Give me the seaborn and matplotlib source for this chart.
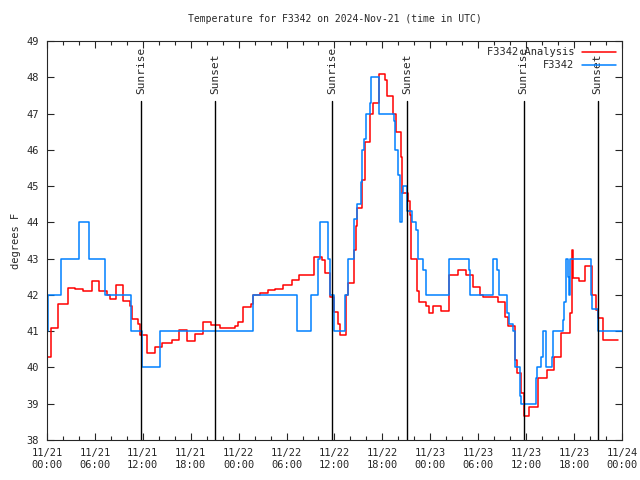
import numpy as np
import pandas as pd
import matplotlib
matplotlib.use("Agg")
from matplotlib import pyplot as plt
import matplotlib.dates as mdates
import seaborn as sns

# observed station values (hours since 2024-11-21 00:00 UTC, degrees F)
obs_hours = [0.0, 0.17, 1.7, 4.05, 5.2, 7.26, 10.5, 11.9, 14.2, 25.8, 31.25, 33.0,
             34.0, 34.2, 35.2, 35.5, 36.0, 37.3, 37.7, 38.4, 38.5, 38.8, 39.3, 39.5,
             39.7, 39.9, 40.5, 40.6, 41.6, 43.4, 43.6, 43.9, 44.2, 44.4, 44.6, 45.1,
             45.7, 46.2, 46.4, 47.1, 47.4, 50.4, 52.8, 53.0, 55.8, 56.4, 56.6, 57.6,
             57.8, 58.4, 58.6, 59.2, 59.4, 61.2, 61.4, 61.9, 62.1, 62.5, 63.2, 63.4,
             64.6, 64.8, 65.0, 65.2, 65.4, 65.5, 68.1, 68.3, 68.6, 69.0, 72.0]
obs_temp = [41, 42, 43, 44, 43, 42, 41, 40, 41, 42, 41, 42,
            43, 44, 43, 42, 41, 42, 43, 43.8, 44.1, 44.5, 45.1, 46.0,
            46.3, 47.0, 47.3, 48.0, 47.0, 46.8, 46.0, 45.3, 44.0, 44.8, 45.0, 44.3,
            44.0, 43.8, 43.0, 42.7, 42.0, 43.0, 42.7, 42.0, 43.0, 42.7, 42.0, 41.5,
            41.2, 41.0, 40.0, 39.2, 39.0, 39.7, 40.0, 40.3, 41.0, 40.0, 40.3, 41.0,
            41.3, 41.8, 43.0, 42.5, 42.0, 43.0, 42.0, 41.6, 41.6, 41.0, 41.0]

# analysis values
ana_hours = [0.0, 0.5, 1.42, 2.58, 3.5, 4.55, 5.59, 6.55, 7.47, 7.88, 8.63, 9.55,
             10.4, 10.6, 11.43, 11.64, 12.47, 13.5, 14.35, 15.6, 16.56, 17.56, 18.5,
             19.6, 20.6, 21.65, 22.7, 23.5, 23.9, 24.6, 25.5, 25.8, 26.7, 27.7, 28.6,
             29.6, 30.7, 31.5, 33.4, 34.5, 34.8, 35.5, 35.9, 36.4, 36.7, 37.4, 37.7,
             38.5, 38.7, 38.8, 39.4, 39.8, 40.4, 40.85, 41.6, 42.3, 42.6, 43.3, 43.7,
             44.3, 44.5, 45.2, 45.4, 45.6, 46.35, 46.6, 47.4, 47.9, 48.4, 49.4, 50.4,
             51.5, 52.5, 53.4, 54.2, 54.6, 56.5, 57.4, 57.7, 58.6, 58.8, 59.3, 59.7,
             60.4, 61.5, 62.6, 63.5, 64.4, 65.5, 65.7, 65.9, 66.6, 67.4, 68.3, 68.7,
             69.0, 69.6, 71.5]
ana_temp = [40.3, 41.1, 41.75, 42.2, 42.15, 42.1, 42.38, 42.12, 42.0, 41.88, 42.28, 41.83,
            41.7, 41.33, 41.2, 40.9, 40.4, 40.57, 40.67, 40.77, 41.03, 40.73, 40.92,
            41.26, 41.17, 41.1, 41.08, 41.15, 41.26, 41.66, 41.75, 42.0, 42.06, 42.13, 42.15,
            42.27, 42.4, 42.55, 43.05, 42.96, 42.6, 41.95, 41.54, 41.2, 40.9, 42.0, 42.33,
            43.24, 43.9, 44.4, 45.17, 46.22, 47.0, 47.3, 48.1, 47.93, 47.47, 47.0, 46.5,
            45.8, 44.8, 44.6, 44.2, 43.0, 42.1, 41.8, 41.7, 41.5, 41.7, 41.57, 42.55,
            42.7, 42.55, 42.22, 42.0, 41.93, 41.8, 41.4, 41.14, 40.2, 39.85, 39.3, 38.67,
            38.92, 39.7, 39.93, 40.3, 40.94, 41.5, 43.25, 42.47, 42.38, 42.8, 42.0, 41.58,
            41.36, 40.76, 40.76]

sun_times = ["2024-11-21 11:46", "2024-11-21 21:02", "2024-11-22 11:42",
             "2024-11-22 21:04", "2024-11-23 11:42", "2024-11-23 20:58"]
sun_labels = ["Sunrise", "Sunset", "Sunrise", "Sunset", "Sunrise", "Sunset"]

start = pd.Timestamp("2024-11-21 00:00")
obs = pd.DataFrame({"time": start + pd.to_timedelta(obs_hours, unit="h"), "temp": obs_temp})
ana = pd.DataFrame({"time": start + pd.to_timedelta(ana_hours, unit="h"), "temp": ana_temp})

sns.set_style("ticks")
plt.rcParams['font.family'] = ['DejaVu Sans Mono']
plt.rcParams['font.size'] = 7

fig = plt.figure(figsize=(6.4, 4.8), dpi=100)
ax = fig.add_axes([0.0734, 0.0833, 0.8984, 0.8313])

sns.lineplot(data=ana, x="time", y="temp", ax=ax, color="#ff0000", linewidth=1.1,
             drawstyle="steps-post", label="F3342 Analysis")
sns.lineplot(data=obs, x="time", y="temp", ax=ax, color="#0080ff", linewidth=1.1,
             drawstyle="steps-post", label="F3342")

# sunrise / sunset markers
for t, lab in zip(sun_times, sun_labels):
    ts = pd.Timestamp(t)
    ax.plot([ts, ts], [38, 47.35], color="black", linewidth=1)
    ax.text(ts, 47.55, lab, rotation=90, ha="center", va="bottom", fontsize=8)

ax.set_xlim(start, start + pd.Timedelta(hours=72))
ax.set_ylim(38, 49)
ax.set_yticks(np.arange(38, 50, 1))
ax.xaxis.set_major_locator(mdates.HourLocator(byhour=[0, 6, 12, 18]))
ax.xaxis.set_minor_locator(mdates.HourLocator(byhour=range(0, 24, 2)))
ax.xaxis.set_major_formatter(mdates.DateFormatter("%m/%d\n%H:%M"))
ax.tick_params(which="both", direction="in", top=True, right=True, labelsize=7.5, pad=6)
ax.tick_params(which="major", length=5, width=0.8)
ax.tick_params(which="minor", length=3, width=0.8)
for s in ax.spines.values():
    s.set_linewidth(0.8)

ax.set_xlabel("")
ax.set_ylabel("degrees F", fontsize=7.5)
ax.set_title("Temperature for F3342 on 2024-Nov-21 (time in UTC)", fontsize=7, pad=14)

ax.legend(loc="upper right", frameon=False, markerfirst=False, fontsize=7.5,
          handlelength=3.2, borderaxespad=0.2, labelspacing=0.3)

plt.savefig("out.png", dpi=100)
